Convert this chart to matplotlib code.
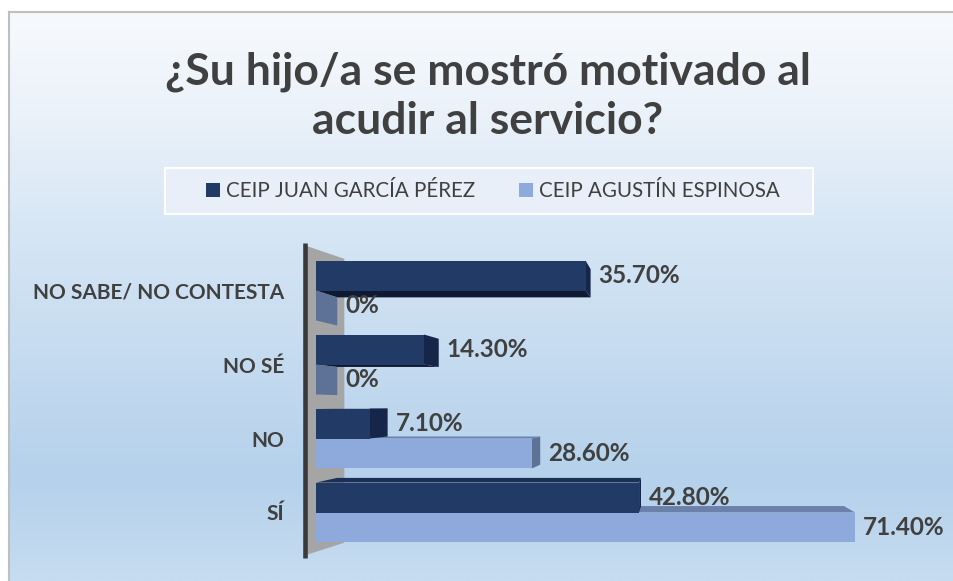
import numpy as np
import matplotlib.pyplot as plt
from matplotlib.patches import Polygon, Patch, Rectangle
from matplotlib.colors import LinearSegmentedColormap

plt.rcParams['font.family'] = ['Lato', 'DejaVu Sans']

# datos de la encuesta
categories = ['SÍ', 'NO', 'NO SÉ', 'NO SABE/ NO CONTESTA']
juan = [42.8, 7.1, 14.3, 35.7]
agustin = [71.4, 28.6, 0.0, 0.0]
juan_labels = ['42.80%', '7.10%', '14.30%', '35.70%']
agustin_labels = ['71.40%', '28.60%', '0%', '0%']
series_names = ['CEIP JUAN GARCÍA PÉREZ', 'CEIP AGUSTÍN ESPINOSA']
title = '¿Su hijo/a se mostró motivado al\nacudir al servicio?'

W, H = 954, 581
TXT = '#404040'
dark = dict(front='#213A66', side='#16264A', top='#1B2F57', bottom='#0E1A33')
light = dict(front='#8EA9DB', side='#5E7298', top='#6B80AA', bottom='#5E7298')

fig = plt.figure(figsize=(W / 100, H / 100), dpi=100)

# fondo con degradado
bg = fig.add_axes([0, 0, 1, 1])
bg.set_xlim(0, W)
bg.set_ylim(H, 0)
bg.axis('off')
cmap = LinearSegmentedColormap.from_list('bg', [(0, '#F7FAFD'), (0.15, '#EDF3FA'), (0.42, '#D3E4F4'),
                                                (0.82, '#B5D1EB'), (1.0, '#C6DCF0')])
grad = np.linspace(0, 1, 256).reshape(-1, 1)
bg.imshow(grad, cmap=cmap, extent=(9, W, H, 12), aspect='auto')
bg.plot([9, 9], [H, 12], color='#BFBFBF', lw=1.5)
bg.plot([9, W], [12, 12], color='#BFBFBF', lw=1.5)
bg.text(488, 96, title, ha='center', va='center', fontsize=32, fontweight='bold',
        color=TXT, linespacing=1.28)

# caja de la leyenda
bg.add_patch(Rectangle((165, 168), 648, 46, fc='#E8EFF8', ec='white', lw=1.5, zorder=2))

# ejes principales (0 en x=316 px, 7.55 px por unidad)
x0, sx = 316, 7.55
y0, sy = 512.5, 74
xlim = (-2.2, 84)
ylim = (-0.65, 3.75)
left = x0 + xlim[0] * sx
right = x0 + xlim[1] * sx
bottom = y0 - ylim[0] * sy
top = y0 - ylim[1] * sy
ax = fig.add_axes([left / W, 1 - bottom / H, (right - left) / W, (bottom - top) / H])
ax.set_xlim(*xlim)
ax.set_ylim(*ylim)
ax.patch.set_alpha(0)
for s in ax.spines.values():
    s.set_visible(False)
ax.set_xticks([])
ax.set_yticks(range(len(categories)), categories)
ax.tick_params(axis='y', length=0, pad=11)
for t in ax.get_yticklabels():
    t.set_fontweight('bold')
    t.set_fontsize(15)
    t.set_color(TXT)

# perspectiva simple
VX, VY = 46.9, 1.45


def back(x, y, k=0.06):
    return x + (VX - x) * k, y + (VY - y) * k


# pared lateral
yt, yb, th = 3.6, -0.57, 1.2
wall = [(-th, yt), back(0, yt, 0.08), back(0, yb, 0.08), (-th, yb)]
ax.add_patch(Polygon(wall, closed=True, fc='#A5A5A5', ec='none', zorder=1))
ax.plot([-1.5, -1.5], [yt + 0.04, yb - 0.04], color='#3A3A3A', lw=3.3, solid_capstyle='butt', zorder=2)

h = 0.405
bars = []
for i in range(len(categories)):
    bars.append((juan[i], i, i + h, dark, juan_labels[i]))
    bars.append((agustin[i], i - h, i, light, agustin_labels[i]))
bars.sort(key=lambda b: -abs((b[1] + b[2]) / 2 - VY))

for z, (v, ya, yc, col, lab) in enumerate(bars):
    zz = 3 + z
    if v < VX:
        side = [(v, ya), (v, yc), back(v, yc), back(v, ya)]
        ax.add_patch(Polygon(side, closed=True, fc=col['side'], ec='none', zorder=zz))
    if VY > yc:
        face = [(0, yc), (v, yc), back(v, yc), back(0, yc)]
        ax.add_patch(Polygon(face, closed=True, fc=col['top'], ec='none', zorder=zz))
    if VY < ya:
        face = [(0, ya), (v, ya), back(v, ya), back(0, ya)]
        ax.add_patch(Polygon(face, closed=True, fc=col['bottom'], ec='none', zorder=zz))
    if v > 0:
        ax.barh(ya, v, height=yc - ya, align='edge', color=col['front'], zorder=zz + 0.5)
    xe = max(v, back(v, ya)[0]) + 8 / sx
    ax.text(xe, (ya + yc) / 2, lab, ha='left', va='center', fontsize=17.5, fontweight='bold',
            color=TXT, zorder=50)

# leyenda
handles = [Patch(fc=dark['front']), Patch(fc=light['front'])]
leg = fig.legend(handles, series_names, loc='center', bbox_to_anchor=(493 / W, 1 - 191 / H), ncol=2,
                 frameon=False, handlelength=0.7, handleheight=0.7, handletextpad=0.3,
                 columnspacing=2.1, fontsize=14.8, labelcolor=TXT)

fig.savefig('out.png', dpi=100)
